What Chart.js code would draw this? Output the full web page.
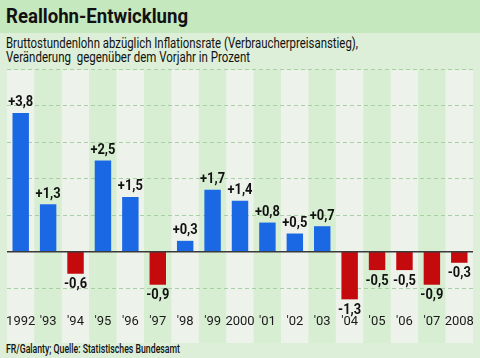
<!DOCTYPE html>
<html>
<head>
<meta charset="utf-8">
<script src="https://cdn.jsdelivr.net/npm/chart.js@4"></script>
<style>
  html, body { margin: 0; padding: 0; }
  body {
    width: 480px; height: 358px; position: relative; overflow: hidden;
    background: #ddefd8;
    font-family: Roboto, "Liberation Sans", sans-serif;
    color: #111;
  }
  #head {
    position: absolute; left: 0; top: 0; width: 480px; height: 33px;
    background: #c6e8bf;
  }
  .fit { position: absolute; left: 6px; white-space: nowrap; transform-origin: 0 0; }
  #title { top: 4px; font-size: 20.5px; font-weight: bold; }
  #sub1 { top: 35px; font-size: 14px; }
  #sub2 { top: 49px; font-size: 14px; }
  #foot { top: 342px; font-size: 12px; font-weight: 500; }
  #wrap { position: absolute; left: 0; top: 0; width: 480px; height: 358px; }
</style>
</head>
<body>
<div id="head"></div>
<div class="fit" id="title" data-w="182">Reallohn-Entwicklung</div>
<div class="fit" id="sub1" data-w="352">Bruttostundenlohn abzüglich Inflationsrate (Verbraucherpreisanstieg),</div>
<div class="fit" id="sub2" data-w="244">Veränderung&nbsp; gegenüber dem Vorjahr in Prozent</div>
<div class="fit" id="foot" data-w="174">FR/Galanty; Quelle: Statistisches Bundesamt</div>
<div id="wrap"><canvas id="chart" width="480" height="358"></canvas></div>

<script>
// DATA
const years = ["1992", "'93", "'94", "'95", "'96", "'97", "'98", "'99", "2000",
  "'01", "'02", "'03", "'04", "'05", "'06", "'07", "2008"];
const realWage = [3.8, 1.3, -0.6, 2.5, 1.5, -0.9, 0.3, 1.7, 1.4,
  0.8, 0.5, 0.7, -1.3, -0.5, -0.5, -0.9, -0.3];
const gridValues = [5, 4, 3, 2, 1, -1];

const FONT = "Roboto, 'Liberation Sans', sans-serif";
const BLUE = "#1a68e4";
const RED = "#c40a0c";

// condensed look: squeeze html text to the width seen in the original
document.querySelectorAll(".fit").forEach(el => {
  const w = el.getBoundingClientRect().width;
  el.style.transform = "scaleX(" + (el.dataset.w / w) + ")";
});

function fmt(v) {
  const s = Math.abs(v).toFixed(1).replace(".", ",");
  return (v >= 0 ? "+" : "-") + s;
}

// COLUMN STRIPES BEHIND EVERYTHING
const stripes = {
  id: "stripes",
  beforeDraw(chart) {
    const ctx = chart.ctx;
    const x = chart.scales.x;
    const w = (chart.chartArea.right - chart.chartArea.left) / years.length;
    ctx.save();
    years.forEach((y, i) => {
      const cx = x.getPixelForValue(i);
      ctx.fillStyle = i % 2 ? "#d8eed3" : "#edf3eb";
      ctx.fillRect(cx - w / 2, 70, w, 273);
    });
    ctx.restore();
  }
};

// ZERO LINE + VALUE LABELS
const labels = {
  id: "labels",
  afterDatasetsDraw(chart) {
    const ctx = chart.ctx;
    const y = chart.scales.y;
    const area = chart.chartArea;
    const zero = y.getPixelForValue(0);
    ctx.save();
    ctx.strokeStyle = "#3a3a3a";
    ctx.lineWidth = 1.5;
    ctx.beginPath();
    ctx.moveTo(area.left, zero);
    ctx.lineTo(area.right, zero);
    ctx.stroke();

    ctx.font = "bold 14px " + FONT;
    ctx.fillStyle = "#111";
    ctx.textAlign = "center";
    const k = 25 / ctx.measureText("+3,8").width;
    chart.getDatasetMeta(0).data.forEach((bar, i) => {
      const v = realWage[i];
      ctx.save();
      if (v >= 0) {
        ctx.textBaseline = "bottom";
        ctx.translate(bar.x, bar.y - 3);
      } else {
        ctx.textBaseline = "top";
        ctx.translate(bar.x, bar.y + 4);
      }
      ctx.scale(k, 1);
      ctx.fillText(fmt(v), 0, 0);
      ctx.restore();
    });
    ctx.restore();
  }
};

new Chart(document.getElementById("chart"), {
  type: "bar",
  data: {
    labels: years,
    datasets: [{
      data: realWage,
      backgroundColor: realWage.map(v => v >= 0 ? BLUE : RED),
      barPercentage: 0.6,
      categoryPercentage: 1.0
    }]
  },
  options: {
    responsive: false,
    animation: false,
    layout: { padding: { left: 7, right: 7, top: 69, bottom: 0 } },
    plugins: {
      legend: { display: false },
      tooltip: { enabled: false }
    },
    scales: {
      x: {
        grid: { display: false },
        border: { display: false },
        ticks: {
          color: "#1a1a1a",
          font: { family: FONT, size: 13 },
          padding: 3,
          maxRotation: 0,
          autoSkip: false
        },
        afterFit(scale) { scale.height = 55; }
      },
      y: {
        display: true,
        min: -1.4,
        max: 5,
        afterBuildTicks(scale) {
          scale.ticks = gridValues.map(v => ({ value: v }));
        },
        ticks: { display: false },
        border: { display: false, dash: [4, 3] },
        grid: {
          color: "#a9cfa4",
          lineWidth: 1,
          drawTicks: false
        },
        afterFit(scale) { scale.width = 0; }
      }
    }
  },
  plugins: [stripes, labels]
});
</script>
</body>
</html>
